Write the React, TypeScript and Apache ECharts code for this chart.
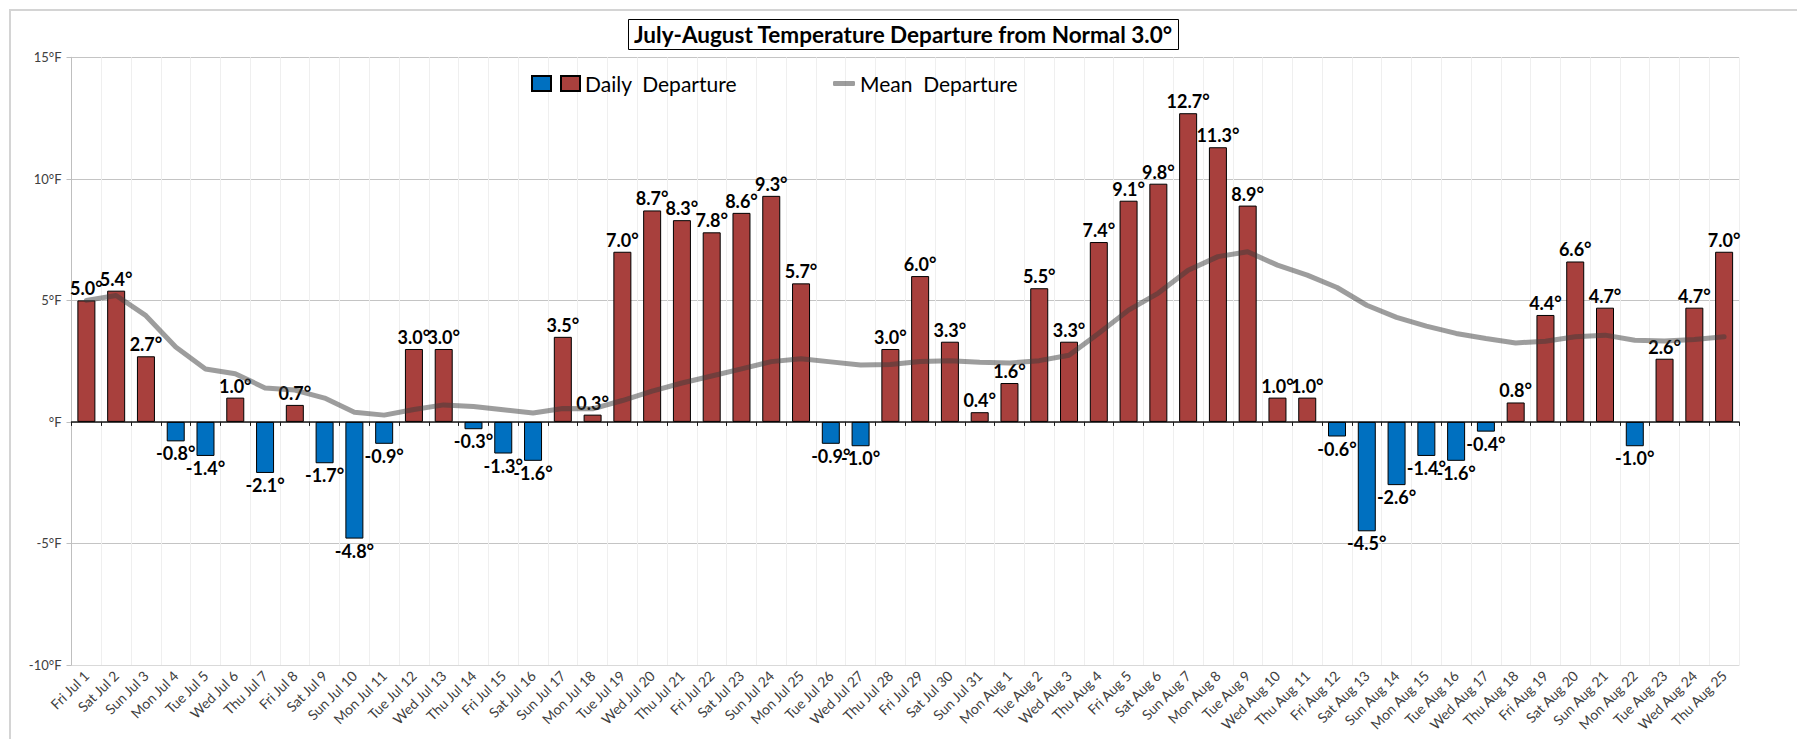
import React, { useEffect, useRef } from "react";
import * as echarts from "echarts";

const categories = [
  "Fri Jul 1", "Sat Jul 2", "Sun Jul 3", "Mon Jul 4", "Tue Jul 5", "Wed Jul 6", "Thu Jul 7",
  "Fri Jul 8", "Sat Jul 9", "Sun Jul 10", "Mon Jul 11", "Tue Jul 12", "Wed Jul 13", "Thu Jul 14",
  "Fri Jul 15", "Sat Jul 16", "Sun Jul 17", "Mon Jul 18", "Tue Jul 19", "Wed Jul 20", "Thu Jul 21",
  "Fri Jul 22", "Sat Jul 23", "Sun Jul 24", "Mon Jul 25", "Tue Jul 26", "Wed Jul 27", "Thu Jul 28",
  "Fri Jul 29", "Sat Jul 30", "Sun Jul 31", "Mon Aug 1", "Tue Aug 2", "Wed Aug 3", "Thu Aug 4",
  "Fri Aug 5", "Sat Aug 6", "Sun Aug 7", "Mon Aug 8", "Tue Aug 9", "Wed Aug 10", "Thu Aug 11",
  "Fri Aug 12", "Sat Aug 13", "Sun Aug 14", "Mon Aug 15", "Tue Aug 16", "Wed Aug 17", "Thu Aug 18",
  "Fri Aug 19", "Sat Aug 20", "Sun Aug 21", "Mon Aug 22", "Tue Aug 23", "Wed Aug 24", "Thu Aug 25",
];

const dailyDeparture = [
  5.0, 5.4, 2.7, -0.8, -1.4, 1.0, -2.1,
  0.7, -1.7, -4.8, -0.9, 3.0, 3.0, -0.3,
  -1.3, -1.6, 3.5, 0.3, 7.0, 8.7, 8.3,
  7.8, 8.6, 9.3, 5.7, -0.9, -1.0, 3.0,
  6.0, 3.3, 0.4, 1.6, 5.5, 3.3, 7.4,
  9.1, 9.8, 12.7, 11.3, 8.9, 1.0, 1.0,
  -0.6, -4.5, -2.6, -1.4, -1.6, -0.4, 0.8,
  4.4, 6.6, 4.7, -1.0, 2.6, 4.7, 7.0,
];

const meanDeparture = [
  5.0, 5.2, 4.37, 3.08, 2.18, 1.98, 1.4,
  1.31, 0.98, 0.4, 0.28, 0.51, 0.7, 0.63,
  0.5, 0.37, 0.55, 0.54, 0.88, 1.27, 1.6,
  1.89, 2.18, 2.48, 2.6, 2.47, 2.34, 2.36,
  2.49, 2.52, 2.45, 2.42, 2.52, 2.74, 3.65,
  4.6, 5.3, 6.24, 6.8, 7.0, 6.45, 6.04,
  5.53, 4.8, 4.3, 3.94, 3.64, 3.43, 3.25,
  3.32, 3.5, 3.57, 3.36, 3.33, 3.39, 3.5,
];

const yTicks = { min: -10, max: 15, interval: 5 };

const TITLE = "July-August Temperature Departure from Normal 3.0°";
const FONT = "Lato, 'Noto Sans', sans-serif";
const RED = "#A8403D";
const BLUE = "#0070C0";

export default function App() {
  const ref = useRef<HTMLDivElement>(null);

  useEffect(() => {
    if (!ref.current) return;
    const chart = echarts.init(ref.current, undefined, { renderer: "svg" });

    const pos = dailyDeparture.map((v) => (v >= 0 ? v : null));
    const neg = dailyDeparture.map((v) => (v < 0 ? v : null));
    const fmt = (p: any) => Number(p.value).toFixed(1) + "°";

    const labelStyle = {
      show: true,
      fontFamily: FONT,
      fontWeight: "bold" as const,
      fontSize: 18,
      color: "#000",
      distance: 3,
      formatter: fmt,
    };

    chart.setOption({
      animation: false,
      backgroundColor: "#fff",
      textStyle: { fontFamily: FONT },
      title: {
        text: TITLE,
        left: 628,
        top: 19,
        padding: [4, 6, 4, 6],
        borderColor: "#000",
        borderWidth: 1,
        textStyle: { fontFamily: FONT, fontWeight: "bold", fontSize: 22.5, color: "#000" },
      },
      legend: [
        {
          data: [
            { name: "Below", icon: "rect" },
            { name: "Daily  Departure", icon: "rect" },
          ],
          left: 531,
          top: 73,
          padding: 0,
          itemGap: 8,
          itemWidth: 19,
          itemHeight: 15,
          formatter: (n: string) => (n === "Below" ? "" : n),
          textStyle: { fontFamily: FONT, fontSize: 21, color: "#000" },
        },
        {
          data: ["Mean  Departure"],
          left: 833,
          top: 73,
          padding: 0,
          itemWidth: 22,
          itemHeight: 5,
          icon: "roundRect",
          textStyle: { fontFamily: FONT, fontSize: 21, color: "#000" },
        },
      ],
      grid: { left: 71.5, right: 58, top: 57.3, bottom: 74, containLabel: false },
      xAxis: [
        {
          type: "category",
          data: categories,
          position: "bottom",
          axisLine: { onZero: false, lineStyle: { color: "#D9D9D9", width: 1 } },
          axisTick: { show: false },
          splitLine: { show: true, interval: 0, lineStyle: { color: "#EFEFEF", width: 1 } },
          axisLabel: {
            interval: 0,
            rotate: 45,
            fontFamily: FONT,
            fontSize: 14,
            color: "#404040",
            margin: 8,
          },
        },
        {
          type: "category",
          data: categories,
          position: "bottom",
          axisLine: { onZero: true, lineStyle: { color: "#1a1a1a", width: 1.5 } },
          axisTick: { show: true, interval: 0, length: 4, lineStyle: { color: "#1a1a1a" } },
          axisLabel: { show: false },
          splitLine: { show: false },
        },
      ],
      yAxis: {
        type: "value",
        min: yTicks.min,
        max: yTicks.max,
        interval: yTicks.interval,
        axisLine: { show: true, lineStyle: { color: "#BFBFBF" } },
        axisTick: { show: true, length: 5, lineStyle: { color: "#BFBFBF" } },
        splitLine: { show: true, lineStyle: { color: "#C4C4C4", width: 1 } },
        axisLabel: {
          fontFamily: FONT,
          fontSize: 13,
          color: "#404040",
          margin: 10,
          formatter: (v: number) => (v === 0 ? "°F" : v + "°F"),
        },
      },
      graphic: [
        {
          type: "rect",
          shape: { x: 10, y: 10, width: 1800, height: 760 },
          style: { fill: "none", stroke: "#D4D4D4", lineWidth: 2 },
          silent: true,
          z: -10,
        },
      ],
      series: [
        {
          name: "Below",
          type: "bar",
          data: neg,
          barWidth: 18,
          barGap: "-100%",
          itemStyle: { color: BLUE, borderColor: "#000", borderWidth: 1 },
          label: { ...labelStyle, position: "bottom" },
          z: 2,
        },
        {
          name: "Daily  Departure",
          type: "bar",
          data: pos,
          barWidth: 18,
          barGap: "-100%",
          itemStyle: { color: RED, borderColor: "#000", borderWidth: 1 },
          label: { ...labelStyle, position: "top" },
          z: 2,
        },
        {
          name: "Mean  Departure",
          type: "line",
          data: meanDeparture,
          symbol: "none",
          smooth: false,
          lineStyle: { color: "rgba(60,60,60,0.5)", width: 5, cap: "round", join: "round" },
          itemStyle: { color: "rgba(60,60,60,0.5)" },
          z: 3,
        },
      ],
    });

    return () => chart.dispose();
  }, []);

  return (
    <div
      ref={ref}
      style={{ position: "fixed", left: 0, top: 0, width: 1797, height: 739, background: "#fff" }}
    />
  );
}
